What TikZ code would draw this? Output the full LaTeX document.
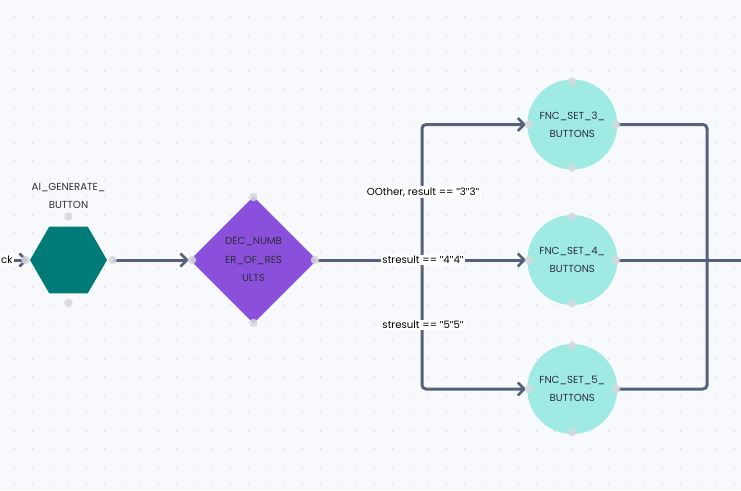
\documentclass[tikz,border=0pt]{standalone}
\usepackage{fontspec}
\setmainfont{Poppins}[Ligatures=NoCommon]
\newfontfamily\qfont{Liberation Sans}
\newcommand{\qq}{{\qfont\symbol{34}}}
\usetikzlibrary{arrows.meta,shapes.geometric}
\definecolor{bg}{HTML}{F8F9FD}
\definecolor{griddot}{HTML}{C2C6CF}
\definecolor{edgec}{HTML}{56627A}
\definecolor{hexc}{HTML}{007B77}
\definecolor{diac}{HTML}{8A4FDB}
\definecolor{circc}{HTML}{A0EAE4}
\definecolor{portc}{HTML}{D6D8DD}
\definecolor{txt}{HTML}{2E2E38}
\tikzset{
  edge/.style={draw=edgec,line width=3pt,rounded corners=4pt},
  arr/.style={-{Straight Barb[length=6.5pt,width=13pt,line width=2.6pt]}},
  portdot/.style={circle,fill=portc,fill opacity=0.85,minimum size=8.5pt,inner sep=0pt},
  elabel/.style={fill=white,inner sep=1.5pt,font=\fontsize{10.2}{12}\selectfont,text=black},
  nlabel/.style={align=center,font=\fontsize{10.2}{18.3}\selectfont,text=txt},
  fnc/.style={circle,fill=circc,minimum size=90pt,inner sep=0pt},
}
\begin{document}
\begin{tikzpicture}[x=1pt,y=-1pt]
\fill[bg] (0,0) rectangle (741,490);
\useasboundingbox (0,0) rectangle (741,490);
\foreach \i in {0,...,41}{\foreach \j in {0,...,27}{
  \fill[griddot] ({14.5+18*\i},{17+18*\j}) circle (0.65);}}
% hexagon
\node[regular polygon,regular polygon sides=6,fill=hexc,minimum size=77pt,inner sep=0pt] (hex) at (68.5,260) {};
\node[nlabel] (hexlab) at (68.5,196) {AI\_GENERATE\_\\BUTTON};
% diamond
\node[diamond,fill=diac,minimum width=127pt,minimum height=127pt,inner sep=0pt] (dia) at (253.5,260) {};
\node[nlabel] (dialab) at (253.5,259.5) {DEC\_NUMB\\ER\_OF\_RES\\ULTS};
% circles
\node[fnc] (c3) at (572.3,124.5) {};
\node[nlabel] (c3lab) at (572.3,124.5) {FNC\_SET\_3\_\\BUTTONS};
\node[fnc] (c4) at (572.3,260) {};
\node[nlabel] (c4lab) at (572.3,260) {FNC\_SET\_4\_\\BUTTONS};
\node[fnc] (c5) at (572.3,389) {};
\node[nlabel] (c5lab) at (572.3,389) {FNC\_SET\_5\_\\BUTTONS};
% coordinates
\coordinate (inL) at (-2,260);
\coordinate (split) at (422,260);
\coordinate (join) at (707,260);
\coordinate (exitR) at (745,260);
% edges
\draw[edge,arr] (inL) -- ([xshift=-2pt]hex.west);
\node[elabel,anchor=west,inner sep=1pt] (cklab) at (0,260) {ck};
\draw[edge,arr] ([xshift=6pt]hex.east) -- ([xshift=-1pt]dia.west);
\draw[edge] (dia.east) -- (split);
\draw[edge,arr] (split) |- ([xshift=-1pt]c3.west);
\draw[edge,arr] (split) -- ([xshift=-1pt]c4.west);
\draw[edge,arr] (split) |- ([xshift=-1pt]c5.west);
\draw[edge] (c3.east) -| (join);
\draw[edge] (c5.east) -| (join);
\draw[edge] (c4.east) -- (exitR);
\node[elabel] (l3) at (423,192) {OOther, result == \qq3\qq3\qq};
\node[elabel] (l4) at (423,260) {stresult == \qq4\qq4\qq};
\node[elabel] (l5) at (423,325) {stresult == \qq5\qq5\qq};
% ports
\node[portdot] (hpt) at (68.5,216.5) {};
\node[portdot] (hpb) at (68.5,303) {};
\node[portdot] (hpl) at (25.5,260) {};
\node[portdot] (hpr) at (112.5,260) {};
\node[portdot] (dpt) at (253.5,197) {};
\node[portdot] (dpb) at (253.5,323) {};
\node[portdot] (dpl) at (192,260) {};
\node[portdot] (dpr) at (315,260) {};
\foreach \c in {c3,c4,c5}{
  \node[portdot] at ([yshift=-2pt]\c.north) {};
  \node[portdot] at ([yshift=2pt]\c.south) {};
  \node[portdot] at ([xshift=2pt]\c.west) {};
  \node[portdot] at ([xshift=-1.5pt]\c.east) {};
}
\end{tikzpicture}
\end{document}
